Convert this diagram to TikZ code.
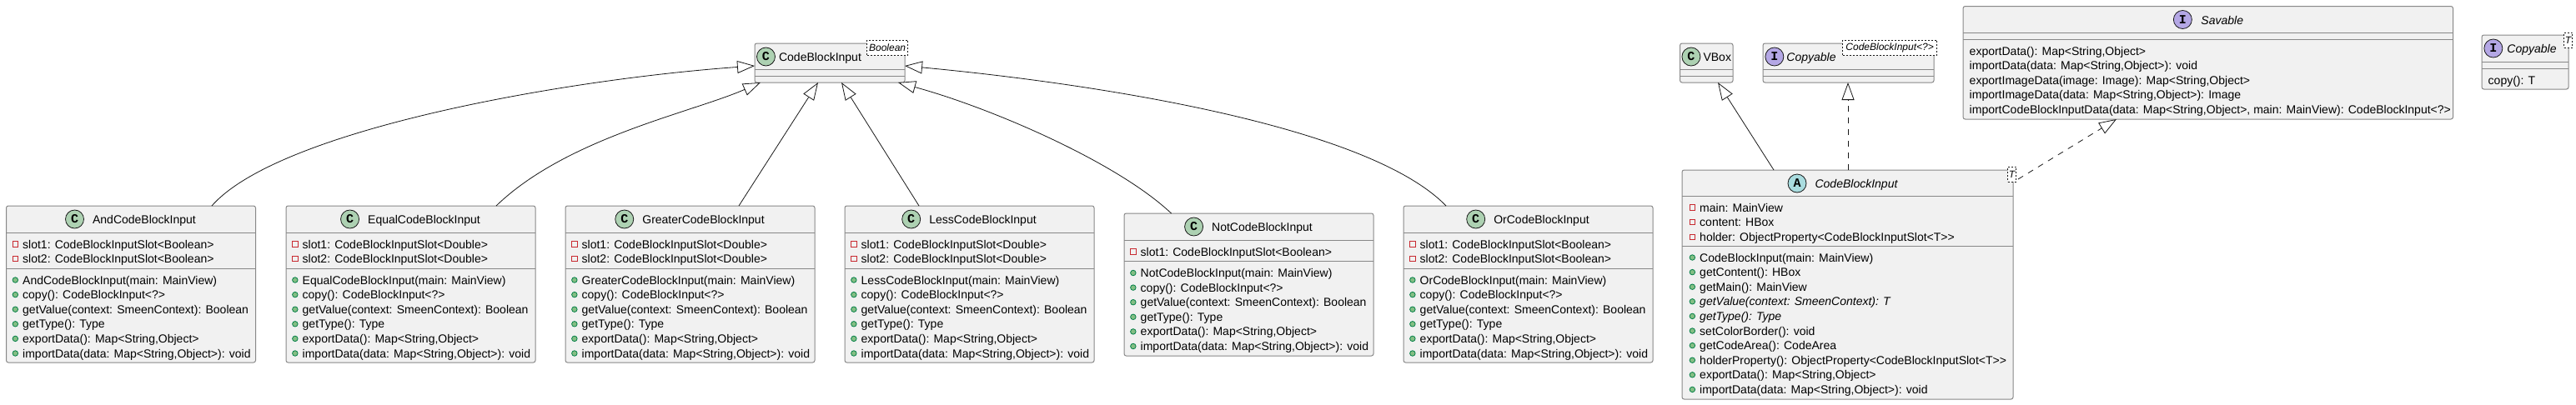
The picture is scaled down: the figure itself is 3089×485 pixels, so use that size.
\documentclass[tikz,border=0pt]{standalone}
\usepackage{fontspec}
\setmainfont{Liberation Sans}
\newfontfamily\spotfont{Liberation Mono}
\usetikzlibrary{positioning,arrows.meta}
\definecolor{boxfill}{HTML}{F1F1F1}
\definecolor{boxline}{HTML}{888888}
\definecolor{linkline}{HTML}{181818}
\tikzset{
  classbox/.style={draw=boxline,fill=boxfill,line width=1pt,rounded corners=2.5pt,inner sep=0pt,outer sep=0pt,anchor=north west},
  divider/.style={draw=boxline,line width=1pt},
  classname/.style={inner sep=0pt,text height=11pt,text depth=0pt,font=\fontsize{14}{16}\selectfont},
  rowtext/.style={inner sep=0pt,anchor=west,text height=10pt,text depth=0pt,font=\fontsize{14}{16}\selectfont},
  spot/.style={circle,draw=linkline,line width=0.8pt,minimum size=22pt,inner sep=0pt,font=\spotfont\bfseries\fontsize{15}{15}\selectfont},
  classspot/.style={spot,fill=spotgreen},
  absspot/.style={spot,fill=spotcyan},
  ifacespot/.style={spot,fill=spotviolet},
  privspot/.style={rectangle,draw=privred,line width=0.8pt,minimum size=6.5pt,inner sep=0pt},
  pubspot/.style={circle,draw=pubgreen,fill=pubfill,line width=0.8pt,minimum size=6.5pt,inner sep=0pt},
  template/.style={draw=linkline,fill=white,dashed,dash pattern=on 2pt off 2pt,line width=0.8pt,inner sep=0pt,anchor=north east,
    minimum height=18pt,font=\itshape\fontsize{12}{14}\selectfont},
  extends/.style={draw=linkline,line width=0.8pt,-{Triangle[open,length=21pt,width=15pt,fill=white]}},
  implements/.style={extends,dash pattern=on 7pt off 7pt},
}
\definecolor{spotgreen}{HTML}{ADD1B2}
\definecolor{spotcyan}{HTML}{A9DCDF}
\definecolor{spotviolet}{HTML}{B4A7E5}
\definecolor{privred}{HTML}{C82930}
\definecolor{pubgreen}{HTML}{038048}
\definecolor{pubfill}{HTML}{84BE84}
% name, left, top, width, height, first divider, second divider
\newcommand{\classframe}[7]{
  \node[classbox,minimum width=#4pt,minimum height=#5pt] (#1) at (#2,#3) {};
  \draw[divider] ([yshift=-#6pt]#1.north west) -- ([yshift=-#6pt]#1.north east);
  \draw[divider] ([yshift=-#7pt]#1.north west) -- ([yshift=-#7pt]#1.north east);
}
% box, shift from centre, gap, spot style, letter, name
\newcommand{\classtitle}[6]{
  \node[classname] (#1-name) at ([xshift=#2pt,yshift=-16pt]#1.north) {#6};
  \node[#4,left=#3pt of #1-name] (#1-spot) {#5};
}
% prefix, text left, first row, spot style, rows
\newcommand{\memberrows}[5]{
  \foreach \txt [count=\n] in {#5} {
    \pgfmathsetmacro\rowy{#3+17.6*(\n-1)}
    \node[rowtext] (#1-row\n) at (#2,\rowy) {\txt};
    \node[#4,left=5pt of #1-row\n] (#1-mark\n) {};
  }
}
\begin{document}
\begin{tikzpicture}[x=1pt,y=-1pt]
  \useasboundingbox (0,0) rectangle (3089,485);
  % Subclasses with two slots
  \foreach \nm/\x/\slot in {And/7.5/Boolean,Equal/343/Double,Greater/678/Double,Less/1013/Double,Or/1683/Boolean} {
    \classframe{\nm}{\x}{247}{299}{188}{32}{75}
    \classtitle{\nm}{16}{10}{classspot}{C}{\nm CodeBlockInput}
    \pgfmathsetmacro\rowx{\x+19.5}
    \memberrows{\nm-f}{\rowx}{293}{privspot}{{slot1: CodeBlockInputSlot<\slot>},{slot2: CodeBlockInputSlot<\slot>}}
    \memberrows{\nm-m}{\rowx}{336}{pubspot}{{\nm CodeBlockInput(main: MainView)},{copy(): CodeBlockInput<?>},{getValue(context: SmeenContext): Boolean},{getType(): Type},{exportData(): Map<String,Object>},{importData(data: Map<String,Object>): void}}
  }
  % Not has one slot
  \classframe{Not}{1348}{256}{299}{171}{32}{57}
  \classtitle{Not}{16}{10}{classspot}{C}{NotCodeBlockInput}
  \memberrows{Not-f}{1367.5}{302}{privspot}{{slot1: CodeBlockInputSlot<Boolean>}}
  \memberrows{Not-m}{1367.5}{327.5}{pubspot}{{NotCodeBlockInput(main: MainView)},{copy(): CodeBlockInput<?>},{getValue(context: SmeenContext): Boolean},{getType(): Type},{exportData(): Map<String,Object>},{importData(data: Map<String,Object>): void}}
  % Bound parent
  \classframe{CodeBase}{905}{52}{180}{47}{31}{39}
  \classtitle{CodeBase}{-11.5}{4}{classspot}{C}{CodeBlockInput}
  % Parents of the abstract class
  \classframe{VBox}{2014.5}{52}{63.5}{47}{31}{39}
  \classtitle{VBox}{13}{3}{classspot}{C}{VBox}
  \classframe{CopyRef}{2114}{52}{205}{47}{31}{39}
  \classtitle{CopyRef}{-44.5}{3}{ifacespot}{I}{\itshape Copyable}
  \classframe{Savable}{2354}{7.5}{587.5}{135.5}{31.5}{39.5}
  \classtitle{Savable}{17}{10.5}{ifacespot}{I}{\itshape Savable}
  \foreach \txt [count=\n] in {{exportData(): Map<String,Object>},{importData(data: Map<String,Object>): void},{exportImageData(image: Image): Map<String,Object>},{importImageData(data: Map<String,Object>): Image},{importCodeBlockInputData(data: Map<String,Object>, main: MainView): CodeBlockInput<?>}} {
    \pgfmathsetmacro\rowy{61+17.6*(\n-1)}
    \node[rowtext] (Savable-row\n) at (2361.5,\rowy) {\txt};
  }
  % Generic interface
  \classframe{CopyT}{2976}{42}{104}{65}{32}{40}
  \classtitle{CopyT}{8}{5}{ifacespot}{I}{\itshape Copyable}
  \node[rowtext] (CopyT-row1) at (2983.5,96.5) {copy(): T};
  % Abstract class
  \classframe{CodeAbs}{2017}{204}{397}{275}{31}{91}
  \classtitle{CodeAbs}{10.5}{10}{absspot}{A}{\itshape CodeBlockInput}
  \memberrows{CodeAbs-f}{2038}{249}{privspot}{{main: MainView},{content: HBox},{holder: ObjectProperty<CodeBlockInputSlot<T>{}>}}
  \memberrows{CodeAbs-m}{2038}{309}{pubspot}{{CodeBlockInput(main: MainView)},{getContent(): HBox},{getMain(): MainView},{\itshape getValue(context: SmeenContext): T},{\itshape getType(): Type},{setColorBorder(): void},{getCodeArea(): CodeArea},{holderProperty(): ObjectProperty<CodeBlockInputSlot<T>{}>},{exportData(): Map<String,Object>},{importData(data: Map<String,Object>): void}}
  % Inheritance
  \draw[extends] ([xshift=246.5pt]And.north west) .. controls (335,155) and (680,95) .. ([yshift=-27pt]CodeBase.north west);
  \draw[extends] ([xshift=252pt]Equal.north west) .. controls (680,165) and (830,135) .. ([xshift=7pt]CodeBase.south west);
  \draw[extends] ([xshift=208pt]Greater.north west) -- ([xshift=76pt]CodeBase.south west);
  \draw[extends] ([xshift=89pt]Less.north west) -- ([xshift=104pt]CodeBase.south west);
  \draw[extends] ([xshift=56.5pt]Not.north west) .. controls (1340,195) and (1190,130) .. ([xshift=172pt]CodeBase.south west);
  \draw[extends] ([xshift=51pt]Or.north west) .. controls (1640,150) and (1310,100) .. ([yshift=-27pt]CodeBase.north east);
  \draw[extends] ([xshift=110pt]CodeAbs.north west) -- ([xshift=45.5pt]VBox.south west);
  \draw[implements] ([xshift=199pt]CodeAbs.north west) -- ([xshift=102pt]CopyRef.south west);
  \draw[implements] ([shift={(6pt,-11pt)}]CodeAbs.north east) -- ([xshift=184pt]Savable.south west);
  % Template labels
  \node[template,minimum width=49pt] (CodeBase-arg) at ([shift={(4pt,4pt)}]CodeBase.north east) {Boolean};
  \node[template,minimum width=113pt] (CopyRef-arg) at ([shift={(4pt,4pt)}]CopyRef.north east) {CodeBlockInput<?>};
  \node[template,minimum width=10pt] (CopyT-arg) at ([shift={(5pt,3pt)}]CopyT.north east) {T};
  \node[template,minimum width=10pt] (CodeAbs-arg) at ([shift={(4pt,4pt)}]CodeAbs.north east) {T};
\end{tikzpicture}
\end{document}
